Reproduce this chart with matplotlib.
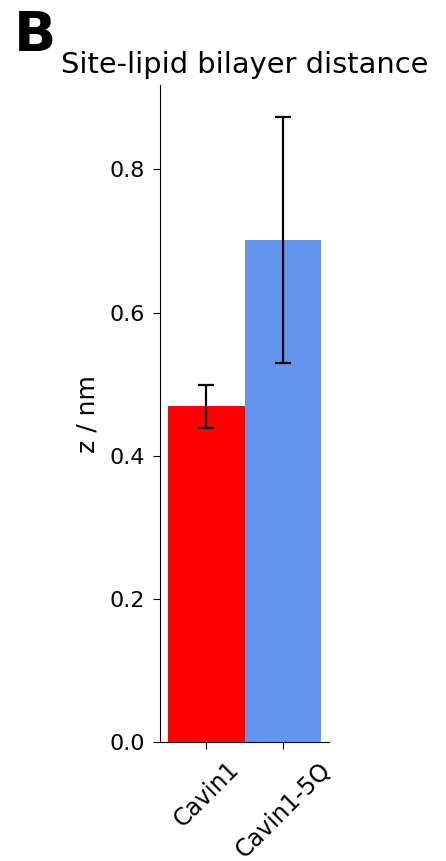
import matplotlib
matplotlib.use("Agg")
import matplotlib.pyplot as plt

# data
labels = ["Cavin1", "Cavin1-5Q"]
means = [0.469, 0.702]
errs = [0.030, 0.172]
colors = ["red", "cornflowerblue"]

fig = plt.figure(figsize=(4.46, 8.61), dpi=100)
ax = fig.add_axes([0.359, 0.138, 0.379, 0.763])

ax.bar(range(len(labels)), means, width=1.0, color=colors,
       yerr=errs, capsize=6, error_kw={'elinewidth': 1.6, 'capthick': 1.6})

ax.set_xticks(range(len(labels)))
ax.set_xticklabels(labels, rotation=45, ha='center', fontsize=17)
ax.tick_params(axis='both', length=5, pad=6)
ax.tick_params(axis='y', labelsize=16)
ax.set_yticks([0.0, 0.2, 0.4, 0.6, 0.8])
ax.set_ylabel('z / nm', fontsize=18, labelpad=7)
ax.set_title('Site-lipid bilayer distance', fontsize=20.8, pad=8.5)
ax.spines['top'].set_visible(False)
ax.spines['right'].set_visible(False)

fig.text(0.03, 0.99, 'B', fontsize=40, fontweight='bold', va='top', ha='left')

fig.savefig('out.png', dpi=100)
